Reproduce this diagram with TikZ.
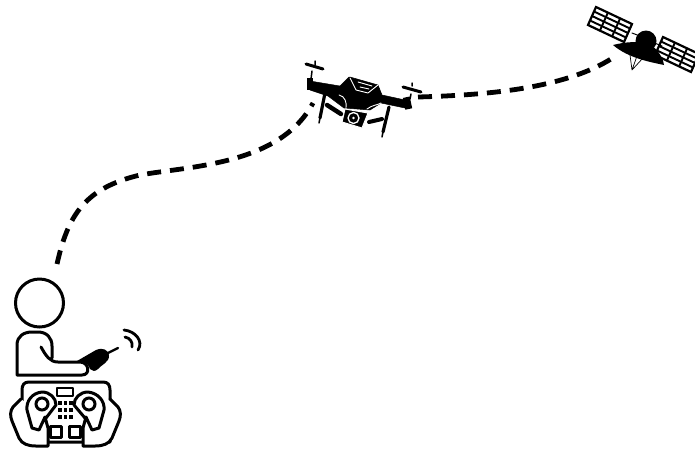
\documentclass[tikz,border=0pt]{standalone}
\usetikzlibrary{arrows.meta, calc}
\tikzset{
  outline/.style={draw=black, line width=3pt, line join=round, line cap=round, fill=white},
  thinline/.style={draw=black, line width=2.4pt, line cap=round, line join=round},
  solidpart/.style={fill=black, draw=black, line width=0.5pt, line join=round},
  cutline/.style={draw=white, line width=0.9pt, line cap=round, line join=round},
  radiolink/.style={draw=black, line width=4.8pt, dash pattern=on 14pt off 9pt},
  panelgrid/.style={draw=black, line width=1.9pt}
}
\begin{document}
\begin{tikzpicture}[x=1pt, y=-1pt]
  \useasboundingbox (0,0) rectangle (695,448);

  % operator
  \coordinate (operator) at (57,264);
  \node[circle, draw=black, line width=3pt, minimum size=48pt, inner sep=0pt] (head) at (39.5,303) {};
  \draw[thinline, line width=3pt] (41,347) .. controls (46,356) and (50,362) .. (58,362) -- (80,362)
    .. controls (89,362) and (91,375) .. (82,375) -- (17,375) -- (17,345)
    .. controls (17,336) and (24,332) .. (32,332) -- (38,332)
    .. controls (47,332) and (52,338) .. (52,346) -- (52,358);
  \fill[black] (77,361) -- (96,350) .. controls (103,347) and (108,350) .. (109,355)
    .. controls (110,362) and (101,365) .. (98,369) .. controls (95,372) and (92,371) .. (90,369)
    .. controls (89,365) and (86,363) .. (83,362) -- cycle;
  \draw[thinline] (106,354) -- (118,348);
  \draw[thinline, line width=2.8pt] (125,337) .. controls (130,338) and (133,342) .. (132,347);
  \draw[thinline, line width=2.8pt] (124,330) .. controls (135,331) and (144,341) .. (138,350);

  % controller and hands
  \draw[outline] (29,382) -- (103,382) .. controls (108,382) and (110,385) .. (110,390)
    -- (110,442) -- (22,442) -- (22,390) .. controls (22,385) and (24,382) .. (29,382);
  \draw[outline] (21,399) -- (13,407) .. controls (10,411) and (10,416) .. (12,421)
    -- (19,438) .. controls (22,444) and (28,446) .. (36,446) -- (48,446) -- (48,428)
    -- (45,417) -- (39,430) -- (32,428) -- (27,410)
    .. controls (26,401) and (32,393) .. (42,392) .. controls (50,392) and (56,398) .. (56,405)
    -- (46,418);
  \draw[outline] (110,399) -- (118,407) .. controls (121,411) and (121,416) .. (119,421)
    -- (112,438) .. controls (109,444) and (103,446) .. (95,446) -- (83,446) -- (83,428)
    -- (86,417) -- (92,430) -- (99,428) -- (104,410)
    .. controls (105,401) and (98,393) .. (88,392) .. controls (80,392) and (74,398) .. (74,405)
    -- (85,418);
  \node[circle, draw=black, line width=3pt, minimum size=12pt, inner sep=0pt, fill=white] (leftstick) at (42,404) {};
  \node[circle, draw=black, line width=3pt, minimum size=12pt, inner sep=0pt, fill=white] (rightstick) at (89,404) {};
  \draw[thinline] (57,388) rectangle (73,396);
  \foreach \dotx in {60,65.5,71} {
    \foreach \doty in {403,410,417} {
      \fill[black] (\dotx-1.7,\doty-1.7) rectangle (\dotx+1.7,\doty+1.7);
    }
  }
  \draw[thinline, line width=3pt] (50,426) rectangle (61,437);
  \draw[thinline, line width=3pt] (69,426) rectangle (80,437);

  % drone
  \coordinate (droneleft) at (313,103);
  \coordinate (droneright) at (418,97);
  \draw[solidpart] (310,81) -- (340,86) -- (349,77) -- (350,77) -- (378,85) -- (382,95) -- (405,100)
    -- (405,108) -- (381,103) -- (370,110) -- (344,108) -- (328,96) -- (310,90) -- cycle;
  \fill[black] (307,78) rectangle (313,90);
  \fill[black, rotate around={12:(408,103)}] (404,97) rectangle (411,109);
  \draw[thinline, line width=3pt] (306,64) -- (323,69);
  \draw[thinline, line width=3pt] (403,87) -- (421,92);
  \draw[thinline, line width=1.5pt] (312,71) -- (311,79) (315,61) -- (315,65);
  \draw[thinline, line width=1.5pt] (411,94) -- (410,99) (412,83) -- (412,86);
  \draw[cutline] (350,78) -- (356,90) -- (368,93) -- (378,85);
  \draw[cutline] (358,82) -- (372,86) (360,87) -- (369,89);
  \draw[cutline] (339,95) .. controls (345,96) and (347,103) .. (346,108);
  \draw[cutline] (367,109) .. controls (372,105) and (378,105) .. (381,103);
  % legs and camera
  \draw[thinline, line width=3.2pt] (325,93) -- (320,118);
  \draw[thinline, line width=1.5pt] (320,118) -- (319,123);
  \draw[thinline, line width=3.2pt] (389,107) -- (383,132);
  \draw[thinline, line width=1.5pt] (383,132) -- (382,137);
  \draw[thinline, line width=4.5pt] (327,105) -- (341,114);
  \draw[thinline, line width=4pt] (369,122) -- (382,119);
  \draw[fill=black, draw=white, line width=1pt, line join=round] (345,109) -- (368,113) -- (362,128) -- (342,122) -- cycle;
  \node[circle, draw=white, line width=1.3pt, fill=black, minimum size=11pt, inner sep=0pt] (lens) at (353.5,118) {};
  \fill[white] (lens) circle (1.4pt);

  % satellite
  \coordinate (satellite) at (617,55);
  \foreach \panelx/\panely in {0/0, 67/30} {
    \draw[panelgrid, line width=2.2pt, shift={(\panelx,\panely)}] (596,7) -- (632,24) -- (624,42) -- (588,25) -- cycle;
    \foreach \barn in {0.25,0.5,0.75} {
      \draw[panelgrid, shift={(\panelx,\panely)}] ($(596,7)!\barn!(588,25)$) -- ($(632,24)!\barn!(624,42)$);
    }
    \foreach \barn in {0.33,0.67} {
      \draw[panelgrid, shift={(\panelx,\panely)}] ($(596,7)!\barn!(632,24)$) -- ($(588,25)!\barn!(624,42)$);
    }
  }
  \draw[thinline, line width=1pt] (632,33) -- (645,38) (652,42) -- (662,46);
  \draw[thinline, line width=0.7pt] (632,70) -- (630,55) (632,70) -- (637,56) (632,70) -- (643,58);
  \fill[black] (613,45) .. controls (625,42) and (640,40) .. (652,46) .. controls (658,50) and (663,58) .. (664,65)
    .. controls (650,62) and (628,58) .. (613,45) -- cycle;
  \fill[black] (646,41) circle (10.5pt);

  % links
  \draw[radiolink] (operator) .. controls (68,215) and (85,188) .. (140,175)
    .. controls (190,166) and (280,165) .. (droneleft);
  \draw[radiolink] (droneright) .. controls (490,95) and (570,88) .. (satellite);
\end{tikzpicture}
\end{document}
